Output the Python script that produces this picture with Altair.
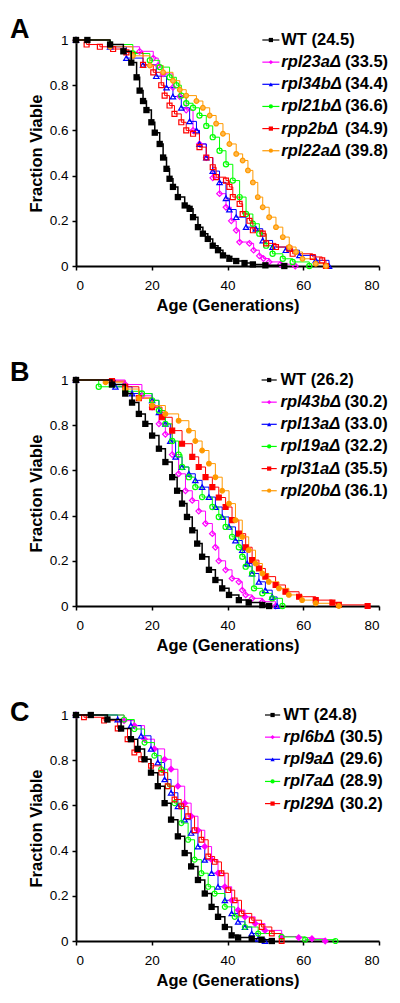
import altair as alt
import pandas as pd

FONT = "Liberation Sans"

# ---------------- Panel A ----------------
A_WT_age = [0, 3, 9, 12.5, 14.6, 16, 16.8, 17.7, 18.6, 19.9, 20.8, 22.1, 23, 23.9, 24.7, 25.6, 26.9, 28.7, 30, 30.9, 32.2, 33.5, 34.8, 36.1, 37.5, 38.8, 40.5, 42.3, 44.5, 46.7, 50, 55]
A_WT_frac = [1, 1, 0.98, 0.95, 0.9, 0.835, 0.776, 0.73, 0.69, 0.636, 0.59, 0.54, 0.48, 0.43, 0.386, 0.35, 0.305, 0.268, 0.253, 0.216, 0.172, 0.143, 0.12, 0.09, 0.07, 0.047, 0.032, 0.022, 0.013, 0.007, 0.003, 0]
A_23a_age = [0, 9, 16.8, 20.4, 21.7, 23, 25.6, 27.4, 29.1, 30.9, 32.6, 34.4, 36.1, 37.9, 39.6, 41, 42.3, 43.2, 45.8, 46.9, 48.4, 49.5, 51, 54, 57.9]
A_23a_frac = [1, 0.97, 0.95, 0.92, 0.887, 0.85, 0.79, 0.75, 0.69, 0.6, 0.54, 0.48, 0.39, 0.32, 0.26, 0.2, 0.158, 0.106, 0.1, 0.07, 0.045, 0.033, 0.018, 0.008, 0]
A_34b_age = [0, 9, 13.3, 17.7, 21.2, 23.9, 25.6, 27.8, 30, 31.8, 32.6, 34.4, 36.1, 37.9, 39.6, 40.5, 42.3, 44.9, 47.5, 49.3, 51.9, 55.4, 59, 63.3, 66.8]
A_34b_frac = [1, 0.97, 0.92, 0.89, 0.84, 0.79, 0.75, 0.70, 0.64, 0.6, 0.54, 0.48, 0.42, 0.37, 0.3, 0.25, 0.216, 0.172, 0.165, 0.113, 0.084, 0.07, 0.047, 0.025, 0]
A_21b_age = [0, 9, 15, 19.5, 22.1, 24.7, 26.5, 27.8, 29.1, 30.9, 32.6, 34.4, 36.1, 37.9, 39.6, 41.4, 43.2, 44.9, 46.7, 48.4, 50.2, 51.9, 54.6, 57.2, 61.6]
A_21b_frac = [1, 0.98, 0.94, 0.91, 0.88, 0.835, 0.8, 0.754, 0.72, 0.70, 0.666, 0.62, 0.57, 0.51, 0.45, 0.378, 0.305, 0.23, 0.187, 0.143, 0.09, 0.054, 0.032, 0.018, 0]
A_p2b_age = [0, 2.8, 6.3, 9.8, 13.3, 17.7, 20.4, 22.5, 23.4, 24.7, 26, 27.8, 29.1, 30.9, 32.6, 34.4, 36.1, 37, 39.6, 40.5, 41.4, 43.2, 44, 45.8, 46.7, 49.3, 50.2, 52.8, 56.3, 57.2, 62.5, 65, 66]
A_p2b_frac = [1, 0.98, 0.97, 0.96, 0.945, 0.89, 0.857, 0.8, 0.754, 0.71, 0.673, 0.636, 0.6, 0.585, 0.526, 0.48, 0.437, 0.393, 0.378, 0.35, 0.305, 0.275, 0.23, 0.2, 0.158, 0.143, 0.1, 0.084, 0.077, 0.054, 0.04, 0.025, 0]
A_22a_age = [0, 9, 15, 19.5, 23, 25.6, 27.4, 29.1, 31.8, 33.5, 35.3, 37, 38.8, 40.5, 42.3, 44, 45.4, 46.7, 48, 49.3, 51, 52.8, 54.6, 56.3, 58.1, 59.8, 63.3, 66]
A_22a_frac = [1, 0.97, 0.93, 0.887, 0.857, 0.82, 0.78, 0.754, 0.73, 0.70, 0.666, 0.63, 0.585, 0.54, 0.496, 0.467, 0.423, 0.37, 0.305, 0.26, 0.216, 0.172, 0.128, 0.084, 0.062, 0.032, 0.01, 0]

A_names = ["WT", "rpl23a\u0394", "rpl34b\u0394", "rpl21b\u0394", "rpp2b\u0394", "rpl22a\u0394"]
A_means = ["(24.5)", "(33.5)", "(34.4)", "(36.6)", "(34.9)", "(39.8)"]

# ---------------- Panel B ----------------
B_WT_age = [0, 9.5, 13, 14.8, 16.6, 18.3, 20.1, 21.9, 23.6, 25.4, 26.7, 28, 29.3, 30.7, 32, 33.3, 35.1, 36.8, 38.6, 40.4, 43, 45.6, 49.2, 51]
B_WT_frac = [1, 0.98, 0.94, 0.9, 0.85, 0.806, 0.754, 0.696, 0.637, 0.57, 0.51, 0.453, 0.394, 0.335, 0.276, 0.218, 0.16, 0.115, 0.078, 0.049, 0.026, 0.015, 0.004, 0]
B_43b_age = [0, 13, 17.4, 20.1, 21.9, 23.6, 25.4, 27.1, 28.9, 30.7, 32.4, 34.2, 36, 36.8, 37.7, 39.5, 41.2, 43, 43.9, 44.8, 46.5, 49.2, 52.7]
B_43b_frac = [1, 0.98, 0.93, 0.88, 0.806, 0.76, 0.67, 0.585, 0.51, 0.467, 0.42, 0.365, 0.32, 0.26, 0.2, 0.16, 0.122, 0.107, 0.07, 0.049, 0.034, 0.019, 0]
B_13a_age = [0, 10.4, 14.8, 20.1, 21.9, 23.6, 24.9, 26.3, 28, 29.8, 31.5, 33.3, 35.1, 36.8, 38.6, 40.4, 42.1, 43.9, 45.2, 46.5, 48.3, 50, 51.8, 53.1]
B_13a_frac = [1, 0.97, 0.94, 0.91, 0.857, 0.806, 0.73, 0.66, 0.615, 0.585, 0.556, 0.526, 0.482, 0.438, 0.394, 0.35, 0.29, 0.247, 0.188, 0.144, 0.107, 0.07, 0.04, 0]
B_19a_age = [0, 6, 13, 17.4, 20.1, 21.9, 23.6, 25.4, 27.1, 28, 29.8, 31.5, 33.3, 36, 37.7, 39.5, 41.2, 43, 43.9, 44.8, 46.5, 47, 49.2, 51.8, 54.5]
B_19a_frac = [1, 0.97, 0.95, 0.94, 0.91, 0.865, 0.806, 0.73, 0.67, 0.615, 0.57, 0.526, 0.482, 0.438, 0.394, 0.35, 0.306, 0.26, 0.218, 0.174, 0.144, 0.078, 0.056, 0.034, 0]
B_31a_age = [0, 9.5, 13, 16.6, 20.1, 22.7, 25.4, 28, 30.7, 32.4, 34.2, 36, 37.7, 39.5, 41.2, 43, 44.8, 46.5, 48.3, 50, 52.7, 55.3, 58.9, 63.3, 67.7, 69.4, 77]
B_31a_frac = [1, 0.995, 0.97, 0.92, 0.88, 0.835, 0.776, 0.718, 0.66, 0.615, 0.57, 0.526, 0.48, 0.438, 0.38, 0.32, 0.26, 0.203, 0.166, 0.13, 0.093, 0.063, 0.041, 0.026, 0.015, 0.005, 0]
B_20b_age = [0, 7.8, 13, 16.6, 20.1, 23.6, 27.1, 29.8, 31.5, 33.3, 35.1, 36.8, 38.6, 40.4, 42.1, 43.9, 45.6, 47.4, 49.2, 50.9, 53.6, 56.2, 59.7, 63.3, 69.4]
B_20b_frac = [1, 0.99, 0.96, 0.92, 0.887, 0.85, 0.82, 0.776, 0.73, 0.688, 0.63, 0.57, 0.51, 0.453, 0.38, 0.306, 0.247, 0.188, 0.144, 0.107, 0.078, 0.049, 0.026, 0.012, 0]

B_names = ["WT ", "rpl43b\u0394", "rpl13a\u0394", "rpl19a\u0394", "rpl31a\u0394", "rpl20b\u0394"]
B_means = ["(26.2)", "(30.2)", "(33.0)", "(32.2)", "(35.5)", "(36.1)"]

# ---------------- Panel C ----------------
C_WT_age = [0, 3.9, 8.3, 11.9, 14.5, 16.3, 18.1, 19.8, 21.6, 23.4, 25.1, 26.9, 28.7, 30.4, 32.2, 34, 35.8, 37.5, 39.3, 41.1, 42.8, 46.4, 49, 51.7]
C_WT_frac = [1, 1, 0.98, 0.94, 0.893, 0.85, 0.804, 0.745, 0.685, 0.61, 0.537, 0.463, 0.389, 0.33, 0.27, 0.21, 0.151, 0.107, 0.062, 0.025, 0.015, 0.01, 0.006, 0]
C_6b_age = [0, 12.7, 15.4, 18.1, 20.7, 23.4, 25.1, 26.9, 28.7, 30.4, 32.2, 34, 35.8, 37.5, 39.3, 41.1, 42.8, 44.6, 47.3, 49.9, 54.3, 58.8, 62.3, 65.8]
C_6b_frac = [1, 0.975, 0.953, 0.893, 0.85, 0.804, 0.76, 0.685, 0.61, 0.552, 0.49, 0.418, 0.36, 0.3, 0.24, 0.18, 0.137, 0.107, 0.077, 0.047, 0.02, 0.015, 0.01, 0]
C_9a_age = [0, 11, 14.5, 17.2, 19.8, 21.6, 23.4, 25.1, 26.9, 28.7, 30.4, 32.2, 34, 35.8, 37.5, 39.3, 41.1, 42.8, 44.6, 46.4, 48.1, 49.9]
C_9a_frac = [1, 0.98, 0.953, 0.908, 0.85, 0.79, 0.715, 0.656, 0.596, 0.537, 0.478, 0.418, 0.359, 0.3, 0.24, 0.18, 0.122, 0.085, 0.062, 0.033, 0.01, 0]
C_7a_age = [0, 12.7, 15.4, 18.1, 20.7, 22.5, 24.2, 26, 27.8, 29.6, 31.3, 33.1, 34.9, 36.6, 39.3, 41.9, 44.6, 48.1, 54.3, 60.5, 68.5]
C_7a_frac = [1, 0.98, 0.938, 0.878, 0.82, 0.76, 0.685, 0.61, 0.522, 0.448, 0.36, 0.3, 0.24, 0.21, 0.151, 0.107, 0.062, 0.033, 0.018, 0.006, 0]
C_29_age = [0, 2.1, 7.4, 11, 13.6, 15.4, 17.2, 19.8, 22.5, 24.2, 26, 27.8, 29.6, 31.3, 33.1, 34.9, 36.6, 38.4, 40.2, 41.9, 43.7, 46.4, 49, 51.7, 54.3]
C_29_frac = [1, 0.99, 0.975, 0.94, 0.893, 0.834, 0.804, 0.775, 0.745, 0.685, 0.626, 0.596, 0.552, 0.49, 0.448, 0.374, 0.35, 0.3, 0.225, 0.18, 0.122, 0.092, 0.062, 0.033, 0]

C_names = ["WT  ", "rpl6b\u0394", "rpl9a\u0394", "rpl7a\u0394", "rpl29\u0394"]
C_means = ["(24.8)", "(30.5)", "(29.6)", "(28.9)", "(30.2)"]

# styles
COLORS = ["#000000", "#FF00FF", "#0000FF", "#00FF00", "#FF0000", "#FF9900"]
SHAPES = ["square", "diamond", "triangle-up", "circle", "square", "circle"]
PT_SIZE = [34, 22, 24, 26, 40, 24]
FILL_A = ["#000000", "transparent", "transparent", "transparent", "transparent", "#FFB84D"]
FILL_B = ["#000000", "transparent", "transparent", "transparent", "#FF0000", "#FF9900"]
FILL_C = ["#000000", "#FF00FF", "transparent", "transparent", "transparent"]

LEG_ROWS = [1.0, 0.902, 0.804, 0.706, 0.608, 0.51]

W, H = 303, 226


def panel(letter, letter_y, names, means, ages, fracs, fills,
          lx0, lx1, ltx, lnx):
    n_ser = len(names)
    colors = COLORS[:n_ser]
    shapes = SHAPES[:n_ser]
    sizes = PT_SIZE[:n_ser]
    rows = []
    for i, (n, a_list, f_list) in enumerate(zip(names, ages, fracs)):
        for a, f in zip(a_list, f_list):
            rows.append({"s": n, "age": a, "frac": f, "k": i})
    df = pd.DataFrame(rows)
    wt_name = names[0]
    cscale = alt.Scale(domain=names, range=colors)
    fscale = alt.Scale(domain=names, range=fills)
    sscale = alt.Scale(domain=names, range=shapes)
    zscale = alt.Scale(domain=names, range=sizes)
    xs = alt.Scale(domain=[0, 80], nice=False)
    ys = alt.Scale(domain=[0, 1], nice=False)
    xax = alt.Axis(values=list(range(0, 81, 10)), title="Age (Generations)")
    yax = alt.Axis(values=[0, 0.2, 0.4, 0.6, 0.8, 1], format="~g", title="Fraction Viable")

    base = alt.Chart(df)
    others = base.transform_filter(alt.datum.s != wt_name)
    wt = base.transform_filter(alt.datum.s == wt_name)

    lines = others.mark_line(interpolate="step-after", strokeWidth=1).encode(
        x=alt.X("age:Q", scale=xs, axis=xax),
        y=alt.Y("frac:Q", scale=ys, axis=yax),
        color=alt.Color("s:N", scale=cscale, legend=None),
        detail="s:N",
    )
    pts = others.mark_point(opacity=1, strokeWidth=1.2).encode(
        x="age:Q", y="frac:Q",
        stroke=alt.Stroke("s:N", scale=cscale, legend=None),
        fill=alt.Fill("s:N", scale=fscale, legend=None),
        shape=alt.Shape("s:N", scale=sscale, legend=None),
        size=alt.Size("s:N", scale=zscale, legend=None),
    )
    wline = wt.mark_line(interpolate="step-after", strokeWidth=1.5, color="black").encode(
        x="age:Q", y="frac:Q")
    wpts = wt.mark_square(size=40, color="black", opacity=1).encode(x="age:Q", y="frac:Q")

    leg = pd.DataFrame({
        "s": names,
        "ypos": LEG_ROWS[:n_ser],
        "gene": ["" if n == wt_name else n for n in names],
        "num": ["" if n == wt_name else m for n, m in zip(names, means)],
        "wt": [f"WT {m}" if n == wt_name else "" for n, m in zip(names, means)],
    })
    lbase = alt.Chart(leg)
    lrule = lbase.mark_rule(strokeWidth=1.2).encode(
        x=alt.datum(lx0), x2=alt.datum(lx1), y="ypos:Q",
        color=alt.Color("s:N", scale=cscale, legend=None))
    lpt = lbase.mark_point(filled=True, opacity=1, size=18).encode(
        x=alt.datum((lx0 + lx1) / 2), y="ypos:Q",
        color=alt.Color("s:N", scale=cscale, legend=None),
        shape=alt.Shape("s:N", scale=sscale, legend=None))
    lgene = lbase.mark_text(align="left", baseline="middle", fontSize=16.5,
                            fontWeight="bold", fontStyle="italic", font=FONT,
                            color="black").encode(
        x=alt.datum(ltx), y="ypos:Q", text="gene:N")
    lnum = lbase.mark_text(align="right", baseline="middle", fontSize=16.5,
                           fontWeight="bold", font=FONT, color="black").encode(
        x=alt.datum(lnx), y="ypos:Q", text="num:N")
    lwt = lbase.mark_text(align="left", baseline="middle", fontSize=16.5,
                          fontWeight="bold", font=FONT, color="black").encode(
        x=alt.datum(ltx), y="ypos:Q", text="wt:N")

    let = alt.Chart(pd.DataFrame({"t": [letter]})).mark_text(
        align="left", baseline="alphabetic", fontSize=27, fontWeight="bold",
        font=FONT, color="black").encode(
        x=alt.value(-66), y=alt.value(letter_y), text="t:N")

    return alt.layer(lines, pts, wline, wpts, lrule, lpt, lgene, lnum, lwt, let).properties(
        width=W, height=H)


pA = panel("A", -2, A_names, A_means,
           [A_WT_age, A_23a_age, A_34b_age, A_21b_age, A_p2b_age, A_22a_age],
           [A_WT_frac, A_23a_frac, A_34b_frac, A_21b_frac, A_p2b_frac, A_22a_frac],
           FILL_A, 49.2, 53.7, 54.2, 82.4)
pB = panel("B", 1, B_names, B_means,
           [B_WT_age, B_43b_age, B_13a_age, B_19a_age, B_31a_age, B_20b_age],
           [B_WT_frac, B_43b_frac, B_13a_frac, B_19a_frac, B_31a_frac, B_20b_frac],
           FILL_B, 49.0, 53.0, 54.0, 82.3)
pC = panel("C", 6, C_names, C_means,
           [C_WT_age, C_6b_age, C_9a_age, C_7a_age, C_29_age],
           [C_WT_frac, C_6b_frac, C_9a_frac, C_7a_frac, C_29_frac],
           FILL_C, 49.9, 53.9, 54.8, 81.0)

chart = alt.vconcat(pA, pB, pC, spacing=45).resolve_scale(
    color="independent", shape="independent", size="independent",
    fill="independent", stroke="independent"
).properties(
    padding={"left": 2, "top": 8, "right": 0, "bottom": 0}
).configure_view(stroke=None).configure_axis(
    grid=False,
    domainColor="black", domainWidth=2,
    tickColor="black", tickWidth=1.5, tickSize=4,
    labelFont=FONT, labelFontSize=13.5, labelColor="black",
    titleFont=FONT, titleFontSize=16.5, titleFontWeight="bold", titleColor="black",
).configure_axisX(labelPadding=8, titlePadding=6).configure_axisY(
    labelPadding=4, titlePadding=5)

chart.save("out.html", embed_options={"renderer": "svg", "actions": False})
